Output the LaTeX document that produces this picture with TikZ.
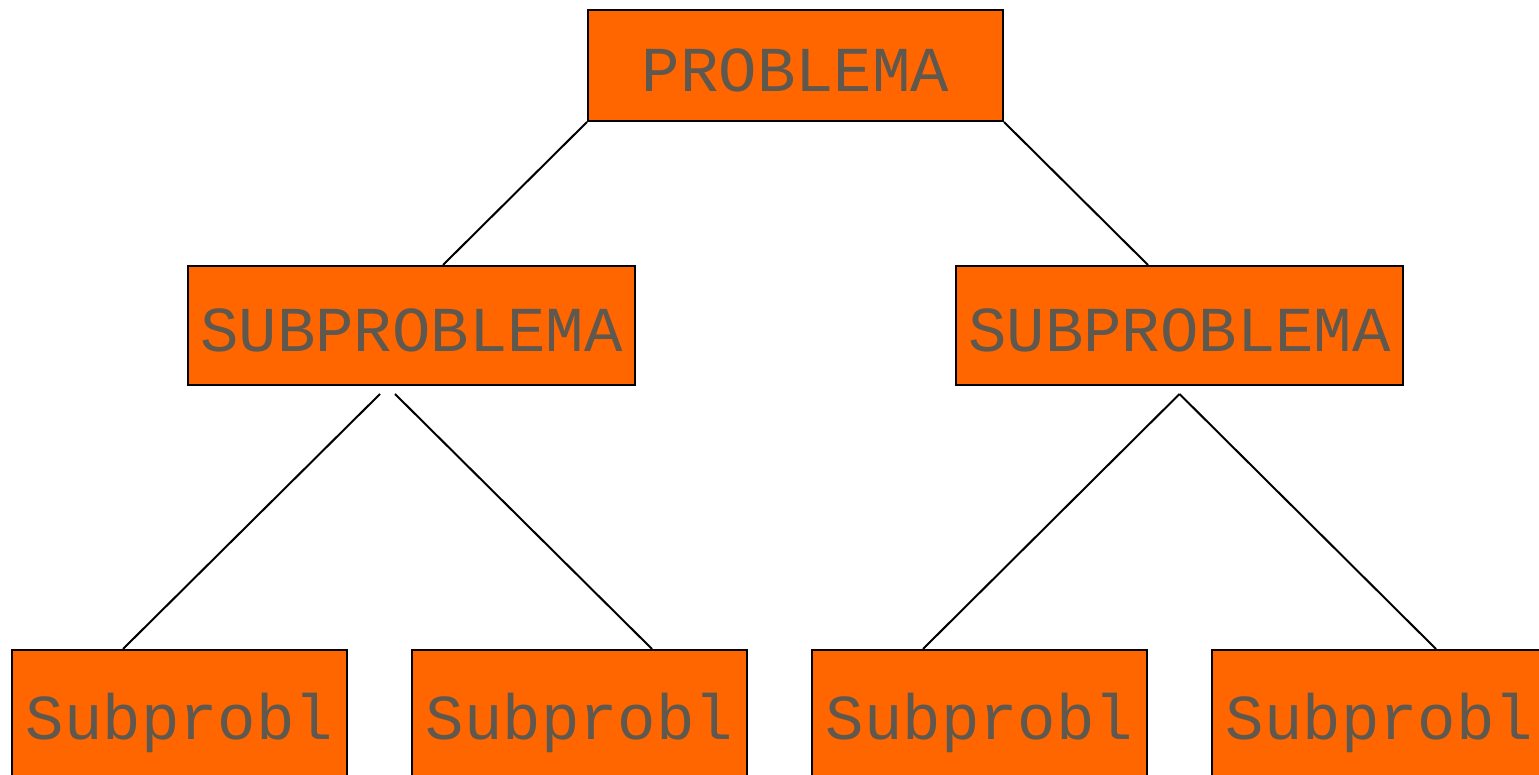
\documentclass[tikz,border=0pt]{standalone}
\usepackage{fontspec}
\setmonofont{Liberation Mono}
\definecolor{boxfill}{HTML}{FF6600}
\definecolor{boxtext}{RGB}{94,88,79}
\begin{document}
\begin{tikzpicture}[x=0.5pt,y=-0.5pt,
  box/.style={draw=black,line width=1pt,fill=boxfill,text=boxtext,
    font=\ttfamily\fontsize{32}{32}\selectfont,inner sep=0pt,
    text height=26.5pt,text depth=0pt},
  topbox/.style={box,minimum width=207.5pt,minimum height=55.5pt},
  midbox/.style={box,minimum width=223.5pt,minimum height=59.5pt},
  leafbox/.style={box,minimum width=167.5pt,minimum height=63.5pt},
  link/.style={draw=black,line width=1pt}]
\useasboundingbox (0,0) rectangle (1539,775);
\clip (0,0) rectangle (1539,775);

% tree nodes
\node[topbox] (top) at (795.5,65.5) {PROBLEMA};
\node[midbox] (subL) at (411.5,325.5) {SUBPROBLEMA};
\node[midbox] (subR) at (1179.5,325.5) {SUBPROBLEMA};
\node[leafbox] (leafA) at (179.5,713.5) {Subprobl};
\node[leafbox] (leafB) at (579.5,713.5) {Subprobl};
\node[leafbox] (leafC) at (979.5,713.5) {Subprobl};
\node[leafbox] (leafD) at (1379.5,713.5) {Subprobl};

% branches
\path[link] (top.south west) -- ([xshift=15.75pt]subL.north);
\path[link] (top.south east) -- ([xshift=-15.75pt]subR.north);
\path[link] ([xshift=-15.75pt,yshift=-4pt]subL.south) -- ([xshift=-28.25pt]leafA.north);
\path[link] ([xshift=-8.25pt,yshift=-4pt]subL.south) -- ([xshift=36.25pt]leafB.north);
\path[link] ([yshift=-4pt]subR.south) -- ([xshift=-28.25pt]leafC.north);
\path[link] ([yshift=-4pt]subR.south) -- ([xshift=28.25pt]leafD.north);
\end{tikzpicture}
\end{document}
